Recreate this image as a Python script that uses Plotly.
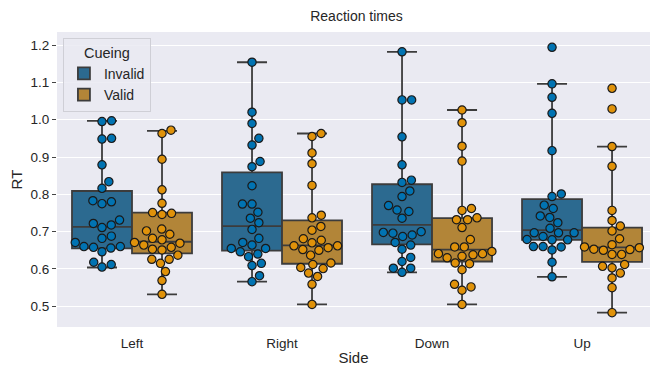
import numpy as np
import plotly.graph_objects as go

sides = ["Left", "Right", "Down", "Up"]
cueing = ["Invalid", "Valid"]

# reaction times
left_invalid = [0.997, 0.995, 0.950, 0.948, 0.879, 0.834, 0.816, 0.780, 0.775, 0.783,
                0.731, 0.718, 0.722, 0.711, 0.688, 0.682, 0.671, 0.660, 0.656, 0.658,
                0.660, 0.646, 0.612, 0.605, 0.618]
left_valid = [0.972, 0.963, 0.894, 0.812, 0.776, 0.751, 0.749, 0.746, 0.707, 0.702,
              0.693, 0.678, 0.682, 0.671, 0.669, 0.664, 0.653, 0.651, 0.658, 0.637,
              0.626, 0.626, 0.615, 0.593, 0.569, 0.532]
right_invalid = [1.154, 1.020, 0.990, 0.950, 0.932, 0.888, 0.874, 0.823, 0.774, 0.774,
                 0.752, 0.736, 0.724, 0.706, 0.682, 0.671, 0.664, 0.655, 0.646, 0.655,
                 0.640, 0.633, 0.615, 0.609, 0.582, 0.566]
right_valid = [0.963, 0.955, 0.911, 0.882, 0.824, 0.744, 0.737, 0.714, 0.704, 0.681,
               0.677, 0.670, 0.662, 0.657, 0.650, 0.652, 0.662, 0.637, 0.616, 0.612,
               0.604, 0.601, 0.589, 0.580, 0.559, 0.505]
down_invalid = [1.182, 1.053, 1.053, 0.954, 0.879, 0.838, 0.832, 0.809, 0.794, 0.770,
                0.758, 0.754, 0.736, 0.700, 0.698, 0.696, 0.691, 0.687, 0.671, 0.664,
                0.653, 0.631, 0.620, 0.602, 0.602, 0.591]
down_valid = [1.026, 0.992, 0.929, 0.889, 0.757, 0.762, 0.732, 0.732, 0.737, 0.711,
              0.679, 0.659, 0.659, 0.647, 0.641, 0.638, 0.641, 0.634, 0.630, 0.614,
              0.616, 0.598, 0.552, 0.543, 0.559, 0.505]
up_invalid = [1.194, 1.096, 1.060, 1.017, 0.917, 0.801, 0.794, 0.771, 0.762, 0.742,
              0.738, 0.724, 0.709, 0.697, 0.697, 0.697, 0.687, 0.679, 0.678, 0.678,
              0.660, 0.660, 0.659, 0.651, 0.618, 0.579]
up_valid = [1.084, 1.029, 0.928, 0.875, 0.757, 0.730, 0.715, 0.702, 0.681, 0.665,
            0.657, 0.652, 0.639, 0.639, 0.650, 0.653, 0.659, 0.612, 0.607, 0.603,
            0.589, 0.576, 0.550, 0.483]

# box statistics per side
invalid_q1 = [0.655, 0.649, 0.666, 0.678]
invalid_median = [0.713, 0.715, 0.718, 0.704]
invalid_q3 = [0.809, 0.859, 0.827, 0.787]
invalid_low = [0.604, 0.566, 0.591, 0.579]
invalid_high = [0.997, 1.154, 1.182, 1.096]
valid_q1 = [0.642, 0.614, 0.620, 0.619]
valid_median = [0.673, 0.663, 0.652, 0.658]
valid_q3 = [0.751, 0.730, 0.736, 0.711]
valid_low = [0.532, 0.505, 0.505, 0.483]
valid_high = [0.970, 0.963, 1.026, 0.928]

data = {
    "Invalid": [left_invalid, right_invalid, down_invalid, up_invalid],
    "Valid": [left_valid, right_valid, down_valid, up_valid],
}
stats = {
    "Invalid": (invalid_q1, invalid_median, invalid_q3, invalid_low, invalid_high),
    "Valid": (valid_q1, valid_median, valid_q3, valid_low, valid_high),
}

point_colors = {"Invalid": "#0173b2", "Valid": "#e0920a"}
box_colors = {"Invalid": "#2c6a90", "Valid": "#b28538"}
line_col = "#3c3c3c"

W, H = 650, 367
ML, MR, MT, MB = 57, 0, 32, 40
X0, X1 = -0.5, 3.453
Y0, Y1 = 0.4445, 1.235
px_x = (W - ML - MR) / (X1 - X0)
px_y = (H - MT - MB) / (Y1 - Y0)
D = 9.6  # marker spacing in pixels


def swarm(vals):
    vals = np.asarray(vals, dtype=float)
    order = np.argsort(vals, kind="stable")
    placed = []
    offs = np.zeros(len(vals))
    for i in order:
        y = vals[i] * px_y
        neigh = [(px, py) for px, py in placed if abs(py - y) < D]
        cands = [0.0]
        for px, py in neigh:
            dx = np.sqrt(D ** 2 - (py - y) ** 2)
            cands += [px + dx, px - dx]
        cands.sort(key=abs)
        chosen = 0.0
        for c in cands:
            if all((c - px) ** 2 + (y - py) ** 2 >= D ** 2 - 1e-6 for px, py in neigh):
                chosen = c
                break
        placed.append((chosen, y))
        offs[i] = chosen / px_x
    return offs


fig = go.Figure()
shift = {"Invalid": -0.2, "Valid": 0.2}

for cue in cueing:
    q1, med, q3, lo, hi = stats[cue]
    fig.add_trace(go.Box(
        x=[i + shift[cue] for i in range(len(sides))],
        q1=q1, median=med, q3=q3, lowerfence=lo, upperfence=hi,
        name=cue, width=0.4, whiskerwidth=0.5,
        fillcolor=box_colors[cue],
        line=dict(color=line_col, width=1.8),
        boxpoints=False, showlegend=True,
    ))

for cue in cueing:
    for i, vals in enumerate(data[cue]):
        offs = swarm(vals)
        fig.add_trace(go.Scatter(
            x=i + shift[cue] + offs, y=vals, mode="markers",
            marker=dict(size=8.3, color=point_colors[cue],
                        line=dict(color="#1a1a1a", width=1.2)),
            showlegend=False, hoverinfo="y",
        ))

font_fam = "Liberation Sans, Arial, sans-serif"
fig.update_layout(
    width=W, height=H,
    margin=dict(l=ML, r=MR, t=MT, b=MB),
    paper_bgcolor="white", plot_bgcolor="#eaeaf2",
    font=dict(family=font_fam, color="#262626", size=13),
    boxmode="overlay",
    title=dict(text="Reaction times", x=(ML + (W - ML + 6) / 2) / W, xanchor="center",
               y=1 - 16 / H, yanchor="middle", font=dict(size=14)),
    legend=dict(
        x=0.010, y=0.98, xanchor="left", yanchor="top",
        bgcolor="rgba(234,234,242,0.85)", bordercolor="#cfcfd6", borderwidth=1,
        title=dict(text="Cueing", side="top center", font=dict(size=14.5)),
        font=dict(size=14), traceorder="normal",
    ),
    showlegend=True,
)
fig.update_xaxes(
    range=[X0, X1], tickmode="array", tickvals=list(range(len(sides))), ticktext=sides,
    showgrid=False, zeroline=False, showline=False, ticks="",
    ticklabelstandoff=6,
    tickfont=dict(size=13.5), title=dict(text="Side", font=dict(size=15), standoff=2),
)
fig.update_yaxes(
    range=[Y0, Y1], tickmode="array", tickvals=[0.5, 0.6, 0.7, 0.8, 0.9, 1.0, 1.1, 1.2],
    ticktext=["0.5", "0.6", "0.7", "0.8", "0.9", "1.0", "1.1", "1.2"],
    showgrid=True, gridcolor="white", gridwidth=1.2, zeroline=False, showline=False,
    ticks="outside", ticklen=4, tickcolor="#444444", tickwidth=1,
    tickfont=dict(size=13.5), title=dict(text="RT", font=dict(size=15), standoff=4),
)

fig.write_html("out.html")
